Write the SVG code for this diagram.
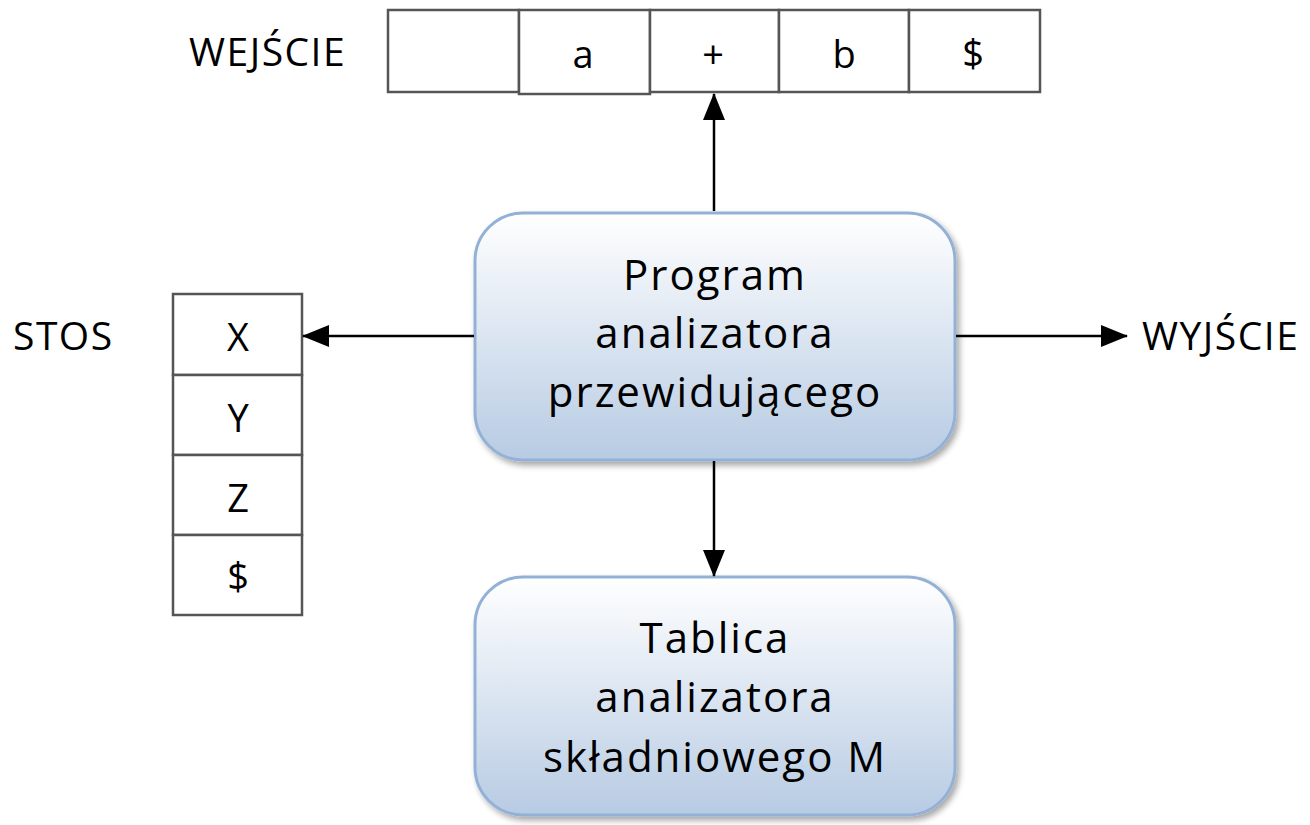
<svg xmlns="http://www.w3.org/2000/svg" width="1310" height="825" viewBox="0 0 1310 825">
<defs>
<linearGradient id="g" x1="0" y1="0" x2="0" y2="1">
<stop offset="0" stop-color="#ffffff"/>
<stop offset="1" stop-color="#b7cbe3"/>
</linearGradient>
<filter id="sh" x="-10%" y="-10%" width="120%" height="120%">
<feGaussianBlur in="SourceAlpha" stdDeviation="3"/>
<feOffset dx="3" dy="4"/>
<feComponentTransfer><feFuncA type="linear" slope="0.35"/></feComponentTransfer>
<feMerge><feMergeNode/><feMergeNode in="SourceGraphic"/></feMerge>
</filter>
<marker id="ah" markerWidth="27" markerHeight="24" refX="26" refY="12" orient="auto" markerUnits="userSpaceOnUse" viewBox="0 0 27 24">
<path d="M0,1 L27,12 L0,23 z" fill="#000"/>
</marker>
</defs>
<style>
.t{font-family:"Open Sans","Noto Sans",sans-serif;fill:#000;}
.big{font-size:42px;text-anchor:middle;letter-spacing:2px;}
.cell{fill:#fff;stroke:#555;stroke-width:2.5;}
.lbl{font-size:39px;letter-spacing:1.5px;}
.sym{font-size:38px;text-anchor:middle;}
.box{fill:url(#g);stroke:#93b1d6;stroke-width:3;filter:url(#sh);}
.ln{stroke:#000;stroke-width:2.5;fill:none;}
</style>
<rect width="1310" height="825" fill="#fff"/>

<g id="input">
<text class="t lbl" x="189" y="66">WEJŚCIE</text>
<rect class="cell" x="388" y="10" width="131" height="82"/>
<rect class="cell" x="519" y="10" width="131" height="84"/>
<rect class="cell" x="650" y="10" width="129" height="82"/>
<rect class="cell" x="779" y="10" width="130" height="82"/>
<rect class="cell" x="909" y="10" width="131" height="82"/>
<text class="t sym" x="583" y="68">a</text>
<text class="t sym" x="713" y="68">+</text>
<text class="t sym" x="844" y="68">b</text>
<text class="t sym" x="973" y="67">$</text>
</g>

<g id="stack">
<text class="t lbl" x="13" y="350">STOS</text>
<rect class="cell" x="173" y="294" width="129" height="81"/>
<rect class="cell" x="173" y="375" width="129" height="80"/>
<rect class="cell" x="173" y="455" width="129" height="80"/>
<rect class="cell" x="173" y="535" width="129" height="80"/>
<text class="t sym" x="238" y="351">X</text>
<text class="t sym" x="238" y="432">Y</text>
<text class="t sym" x="238" y="512">Z</text>
<text class="t sym" x="238" y="590">$</text>
</g>

<g id="output">
<text class="t lbl" x="1142" y="350">WYJŚCIE</text>
</g>

<g id="program">
<rect class="box" x="475" y="213" width="480" height="247" rx="48" ry="48"/>
<text class="t big" x="715" y="290">Program</text>
<text class="t big" x="715" y="348">analizatora</text>
<text class="t big" x="715" y="407">przewidującego</text>
</g>

<g id="table">
<rect class="box" x="475" y="577" width="480" height="238" rx="48" ry="48"/>
<text class="t big" x="715" y="653">Tablica</text>
<text class="t big" x="715" y="712">analizatora</text>
<text class="t big" x="715" y="772">składniowego M</text>
</g>

<g id="connectors">
<line class="ln" x1="714" y1="211" x2="714" y2="94" marker-end="url(#ah)"/>
<line class="ln" x1="474" y1="336" x2="303" y2="336" marker-end="url(#ah)"/>
<line class="ln" x1="956" y1="336" x2="1127" y2="336" marker-end="url(#ah)"/>
<line class="ln" x1="714" y1="461" x2="714" y2="576" marker-end="url(#ah)"/>
</g>
</svg>
